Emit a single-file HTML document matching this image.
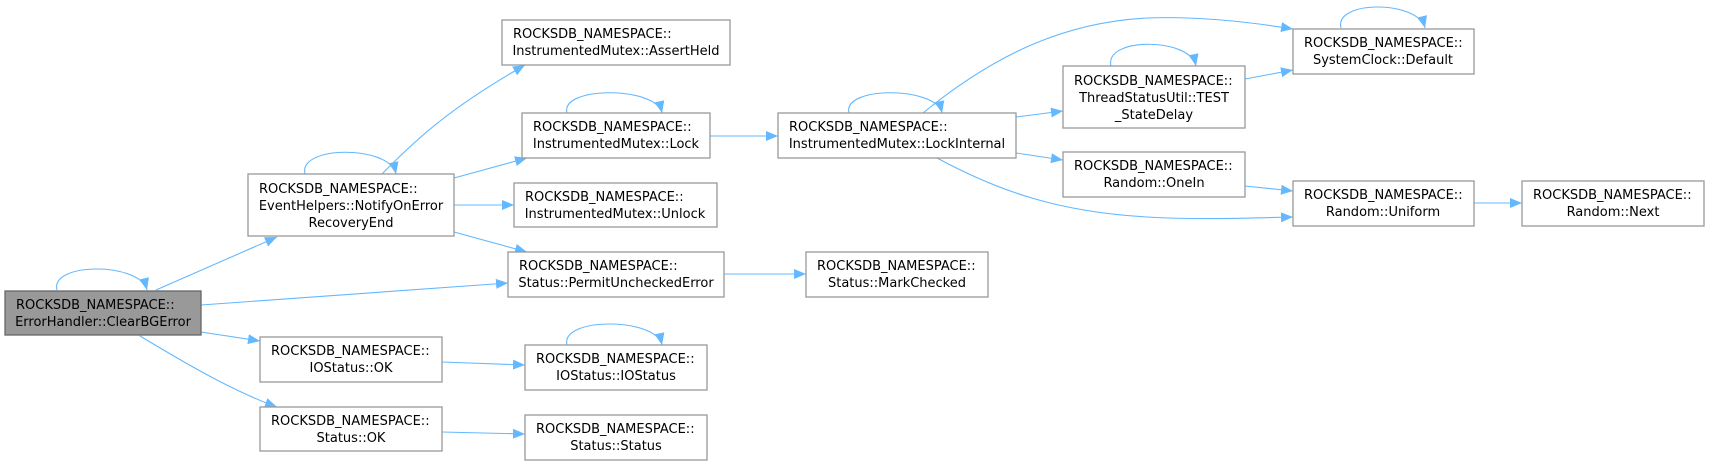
<!DOCTYPE html>
<html><head><meta charset="utf-8"><style>
html,body{margin:0;padding:0;background:#fff;}
svg{display:block;}
text{font-family:"DejaVu Sans","Liberation Sans",sans-serif;font-size:13px;fill:#000;}
.n{fill:#fff;stroke:#999;stroke-width:1.3;}
.e{fill:none;stroke:#63b8ff;stroke-width:1.1;}
</style></head><body>
<svg width="1709" height="465" viewBox="0 0 1709 465" xmlns="http://www.w3.org/2000/svg">
<defs>
<marker id="a" markerUnits="userSpaceOnUse" markerWidth="14" markerHeight="12" refX="12" refY="5" orient="auto">
<path d="M0,0 L12,5 L0,10 Z" fill="#63b8ff"/>
</marker>
</defs>
<g class="e" marker-end="url(#a)">
<path d="M57,290 C50,262 140,262 147,290"/>
<path d="M156,290 L277,237"/>
<path d="M201,305 L508,283"/>
<path d="M201,332 L260,341"/>
<path d="M140,336 C180,360 230,390 277,407"/>
<path d="M305,174 C298,145 390,145 396,174"/>
<path d="M382,174 C420,135 455,105 525,65"/>
<path d="M454,178 L527,158"/>
<path d="M454,205 L514,205"/>
<path d="M454,232 L527,252"/>
<path d="M567,113 C560,86 656,86 662,113"/>
<path d="M710,136 L778,136"/>
<path d="M849,113 C842,86 936,86 942,113"/>
<path d="M923,113 C1000,50 1070,22 1147,18 C1200,16 1250,22 1293,29"/>
<path d="M1016,117 L1063,111"/>
<path d="M1016,153 L1063,160"/>
<path d="M937,158 C1000,192 1060,212 1147,217 C1200,220 1250,218 1293,217"/>
<path d="M1111,66 C1104,37 1190,37 1196,66"/>
<path d="M1245,79 L1293,70"/>
<path d="M1341,28 C1334,0 1418,0 1425,28"/>
<path d="M1245,186 L1293,191"/>
<path d="M1474,203 L1522,203"/>
<path d="M724,274 L806,274"/>
<path d="M442,362 L525,365"/>
<path d="M567,345 C560,317 656,317 662,345"/>
<path d="M442,432 L525,434"/>
</g>
<rect x="5" y="291" width="196" height="44" fill="#999" stroke="#666" stroke-width="1.3"/>
<text x="16" y="309">ROCKSDB_NAMESPACE::</text>
<text x="103" y="326" text-anchor="middle">ErrorHandler::ClearBGError</text>

<rect class="n" x="248" y="174" width="206" height="62"/>
<text x="259" y="193">ROCKSDB_NAMESPACE::</text>
<text x="351" y="210" text-anchor="middle">EventHelpers::NotifyOnError</text>
<text x="351" y="227" text-anchor="middle">RecoveryEnd</text>

<rect class="n" x="260" y="337" width="182" height="45"/>
<text x="271" y="355">ROCKSDB_NAMESPACE::</text>
<text x="351" y="372" text-anchor="middle">IOStatus::OK</text>

<rect class="n" x="260" y="407" width="182" height="44"/>
<text x="271" y="425">ROCKSDB_NAMESPACE::</text>
<text x="351" y="442" text-anchor="middle">Status::OK</text>

<rect class="n" x="502" y="20" width="228" height="45"/>
<text x="513" y="38">ROCKSDB_NAMESPACE::</text>
<text x="616" y="55" text-anchor="middle">InstrumentedMutex::AssertHeld</text>

<rect class="n" x="522" y="113" width="188" height="45"/>
<text x="533" y="131">ROCKSDB_NAMESPACE::</text>
<text x="616" y="148" text-anchor="middle">InstrumentedMutex::Lock</text>

<rect class="n" x="514" y="183" width="203" height="44"/>
<text x="525" y="201">ROCKSDB_NAMESPACE::</text>
<text x="615" y="218" text-anchor="middle">InstrumentedMutex::Unlock</text>

<rect class="n" x="508" y="252" width="216" height="45"/>
<text x="519" y="270">ROCKSDB_NAMESPACE::</text>
<text x="616" y="287" text-anchor="middle">Status::PermitUncheckedError</text>

<rect class="n" x="525" y="345" width="182" height="45"/>
<text x="536" y="363">ROCKSDB_NAMESPACE::</text>
<text x="616" y="380" text-anchor="middle">IOStatus::IOStatus</text>

<rect class="n" x="525" y="415" width="182" height="45"/>
<text x="536" y="433">ROCKSDB_NAMESPACE::</text>
<text x="616" y="450" text-anchor="middle">Status::Status</text>

<rect class="n" x="778" y="113" width="238" height="45"/>
<text x="789" y="131">ROCKSDB_NAMESPACE::</text>
<text x="897" y="148" text-anchor="middle">InstrumentedMutex::LockInternal</text>

<rect class="n" x="806" y="252" width="182" height="45"/>
<text x="817" y="270">ROCKSDB_NAMESPACE::</text>
<text x="897" y="287" text-anchor="middle">Status::MarkChecked</text>

<rect class="n" x="1063" y="66" width="182" height="62"/>
<text x="1074" y="85">ROCKSDB_NAMESPACE::</text>
<text x="1154" y="102" text-anchor="middle">ThreadStatusUtil::TEST</text>
<text x="1154" y="119" text-anchor="middle">_StateDelay</text>

<rect class="n" x="1063" y="152" width="182" height="45"/>
<text x="1074" y="170">ROCKSDB_NAMESPACE::</text>
<text x="1154" y="187" text-anchor="middle">Random::OneIn</text>

<rect class="n" x="1293" y="29" width="181" height="45"/>
<text x="1304" y="47">ROCKSDB_NAMESPACE::</text>
<text x="1383" y="64" text-anchor="middle">SystemClock::Default</text>

<rect class="n" x="1293" y="181" width="181" height="45"/>
<text x="1304" y="199">ROCKSDB_NAMESPACE::</text>
<text x="1383" y="216" text-anchor="middle">Random::Uniform</text>

<rect class="n" x="1522" y="181" width="182" height="45"/>
<text x="1533" y="199">ROCKSDB_NAMESPACE::</text>
<text x="1613" y="216" text-anchor="middle">Random::Next</text>
</svg>
</body></html>
